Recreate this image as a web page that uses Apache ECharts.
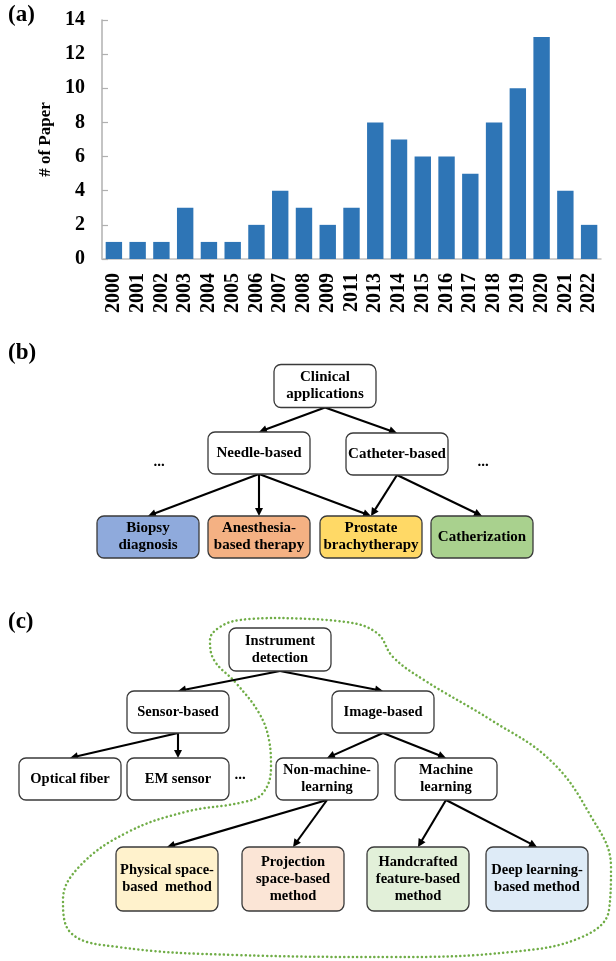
<!DOCTYPE html>
<html><head><meta charset="utf-8">
<script src="https://cdn.jsdelivr.net/npm/echarts@6/dist/echarts.min.js"></script>
<style>html,body{margin:0;padding:0;background:#fff}#c{width:616px;height:961px}</style>
</head><body><div id="c"></div><script>
// ---- (a) bar chart data ----
const years = ['2000','2001','2002','2003','2004','2005','2006','2007','2008','2009','2011','2013','2014','2015','2016','2017','2018','2019','2020','2021','2022'];
const papers = [1,1,1,3,1,1,2,4,3,2,3,8,7,6,6,5,8,10,13,4,2];
const yMin = 0, yMax = 14, yStep = 2;
const yName = '# of Paper';
const panelLabels = ['(a)','(b)','(c)'];

// ---- (b),(c) diagram nodes: [id, text, x, y, w, h, fill] in diagram units ----
const nodesB = [
  ['clinical','Clinical\napplications',325,386,102,43,'#ffffff'],
  ['needle','Needle-based',259,453,102,42,'#ffffff'],
  ['catheter','Catheter-based',397,454,102,42,'#ffffff'],
  ['biopsy','Biopsy\ndiagnosis',148,537,102,42,'#8faadc'],
  ['anesthesia','Anesthesia-\nbased therapy',259,537,102,42,'#f4b183'],
  ['prostate','Prostate\nbrachytherapy',371,537,102,42,'#ffd966'],
  ['catherization','Catherization',482,537,102,42,'#a9d18e']
];
const nodesC = [
  ['instrument','Instrument\ndetection',280,649.5,102,43,'#ffffff'],
  ['sensor','Sensor-based',178,712,102,42,'#ffffff'],
  ['image','Image-based',383,712,102,42,'#ffffff'],
  ['optical','Optical fiber',70,779,102,42,'#ffffff'],
  ['em','EM sensor',178,779,102,42,'#ffffff'],
  ['nonml','Non-machine-\nlearning',327,779,102,42,'#ffffff'],
  ['ml','Machine\nlearning',446,779,102,42,'#ffffff'],
  ['physical','Physical space-\nbased  method',167,879,102,64,'#fff2cc'],
  ['projection','Projection\nspace-based\nmethod',293,879,102,64,'#fbe5d6'],
  ['handcrafted','Handcrafted\nfeature-based\nmethod',418,879,102,64,'#e2f0d9'],
  ['deep','Deep learning-\nbased method',537,879,102,64,'#deebf7']
];
const edges = [
  ['clinical','needle'],['clinical','catheter'],
  ['needle','biopsy'],['needle','anesthesia'],['needle','prostate'],
  ['catheter','prostate'],['catheter','catherization'],
  ['instrument','sensor'],['instrument','image'],
  ['sensor','optical'],['sensor','em'],
  ['image','nonml'],['image','ml'],
  ['nonml','physical'],['nonml','projection'],
  ['ml','handcrafted'],['ml','deep']
];
const ellipses = [[159,462],[483,462],[240,775]];
const outline = [[275,618],[346,622],[377,633],[393,657],[424,680],[491,720],[550,760],[589,813],[611,867],[609,910],[582,937],[511,952],[393,957],[236,955],[118,947],[71,933],[63,900],[79,867],[126,833],[185,812],[244,802],[263,793],[271,767],[269,740],[259,713],[236,683],[214,660],[210,640],[220,627],[240,620],[275,618]];

// ---- build ----
const allNodes = nodesB.map(n=>n.concat(['b'])).concat(nodesC.map(n=>n.concat(['c'])));
const byId = {};
allNodes.forEach(n=>{byId[n[0]]=n;});
const ARROW = 8;
const edgeData = edges.map(([a,b])=>{
  const p = byId[a], q = byId[b];
  const x1 = p[2], y1 = p[3]+p[5]/2, x2 = q[2], y2 = q[3]-q[5]/2;
  const dx = x2-x1, dy = y2-y1, L = Math.hypot(dx,dy);
  return {coords:[[x1,y1],[x2-dx/L*ARROW/2, y2-dy/L*ARROW/2]]};
});
const SERIF = '"Liberation Serif","Times New Roman",serif';

const chart = echarts.init(document.getElementById('c'), null, {renderer:'canvas'});
chart.setOption({
  animation:false,
  backgroundColor:'#fff',
  grid:[
    {left:102, top:20, right:15, bottom:702, containLabel:false},
    {left:0, top:0, width:616, height:961}
  ],
  xAxis:[
    {type:'category', gridIndex:0, data:years,
     axisLine:{lineStyle:{color:'#c0c0c0', width:1.5}},
     axisTick:{show:false},
     axisLabel:{rotate:90, margin:14, color:'#000', fontFamily:SERIF, fontWeight:'bold', fontSize:20, interval:0}},
    {type:'value', gridIndex:1, min:0, max:616, show:false}
  ],
  yAxis:[
    {type:'value', gridIndex:0, min:yMin, max:yMax, interval:yStep,
     name:yName, nameLocation:'middle', nameRotate:90, nameGap:48,
     nameTextStyle:{color:'#000', fontFamily:SERIF, fontWeight:'bold', fontSize:17},
     axisLine:{show:true, lineStyle:{color:'#b0b0b0', width:1.5}},
     axisTick:{show:true, inside:true, length:6, lineStyle:{color:'#b0b0b0', width:1.2}},
     splitLine:{show:false},
     axisLabel:{margin:17, color:'#000', fontFamily:SERIF, fontWeight:'bold', fontSize:20}},
    {type:'value', gridIndex:1, min:0, max:961, inverse:true, show:false}
  ],
  graphic:[
    {type:'text', left:8, top:4, style:{text:panelLabels[0], font:'bold 23px '+SERIF, fill:'#000'}},
    {type:'text', left:8, top:342, style:{text:panelLabels[1], font:'bold 23px '+SERIF, fill:'#000'}},
    {type:'text', left:8, top:611, style:{text:panelLabels[2], font:'bold 23px '+SERIF, fill:'#000'}}
  ],
  series:[
    {type:'bar', xAxisIndex:0, yAxisIndex:0, data:papers, barCategoryGap:'31%',
     itemStyle:{color:'#2e75b6'}},
    {type:'line', xAxisIndex:1, yAxisIndex:1, data:outline, smooth:0.4, symbol:'none',
     lineStyle:{color:'#70ad47', width:2.5, type:[0.1,4.2], cap:'round'}, z:1, silent:true},
    {type:'lines', coordinateSystem:'cartesian2d', xAxisIndex:1, yAxisIndex:1, data:edgeData,
     symbol:['none','triangle'], symbolSize:[8,ARROW],
     lineStyle:{color:'#000', width:2.1, opacity:1, curveness:0}, z:3, silent:true},
    {type:'custom', xAxisIndex:1, yAxisIndex:1, z:4, silent:true,
     data:allNodes.map(n=>[n[2],n[3],n[4],n[5]]),
     encode:{x:0,y:1},
     renderItem:(params, api)=>{
       const n = allNodes[params.dataIndex];
       const c = api.coord([api.value(0), api.value(1)]);
       const s = api.size([api.value(2), api.value(3)]);
       const fs = n[7]==='b' ? 15 : 14.5;
       return {
         type:'rect',
         shape:{x:c[0]-s[0]/2, y:c[1]-s[1]/2, width:s[0], height:s[1], r:7},
         style:{fill:n[6], stroke:'#3a3a3a', lineWidth:1.3},
         textContent:{style:{text:n[1], fill:'#000', font:'bold '+fs+'px '+SERIF, lineHeight:17, align:'center', verticalAlign:'middle'}},
         textConfig:{position:'inside'}
       };
     }},
    {type:'custom', xAxisIndex:1, yAxisIndex:1, z:4, silent:true,
     data:ellipses, encode:{x:0,y:1},
     renderItem:(params, api)=>{
       const c = api.coord([api.value(0), api.value(1)]);
       return {type:'text', x:c[0], y:c[1], style:{text:'...', fill:'#000', font:'bold 15px '+SERIF, align:'center', verticalAlign:'middle'}};
     }}
  ]
});
</script></body></html>
